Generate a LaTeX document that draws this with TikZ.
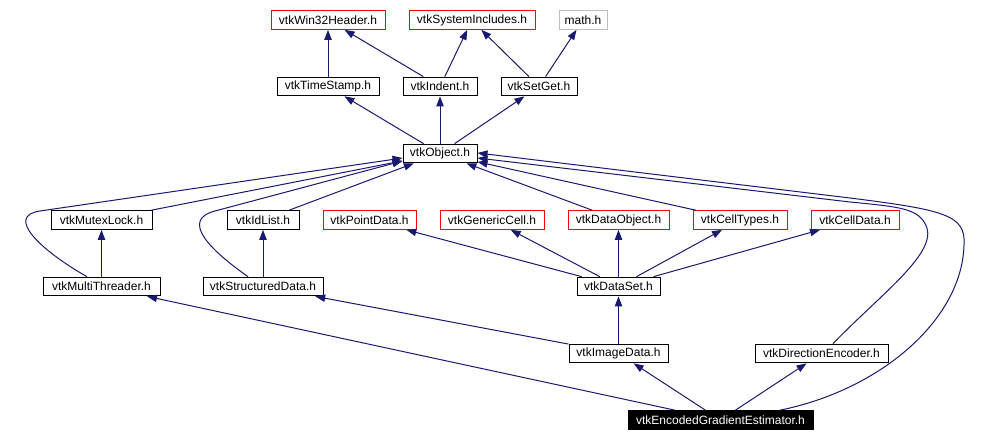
\documentclass[tikz,border=0pt]{standalone}
\usepackage{fontspec}
\setmainfont{Liberation Sans}
\usetikzlibrary{arrows.meta}
\definecolor{EdgeBlue}{RGB}{25, 25, 112}
\definecolor{TruncRed}{RGB}{255, 0, 0}
\definecolor{SysGray}{RGB}{191, 191, 191}

\begin{document}
\begin{tikzpicture}[x=0.75pt, y=-0.75pt,
    file/.style={draw=black, line width=0.75pt, fill=white, inner sep=0pt,
      minimum height=14pt, font=\fontsize{9}{10}\selectfont},
    trunc/.style={file, draw=TruncRed},
    sysfile/.style={file, draw=SysGray},
    current/.style={file, fill=black, text=white},
    edge/.style={draw=EdgeBlue, line width=0.75pt,
      -{Triangle[length=7.5pt, width=5.5pt]}}]
    \useasboundingbox (0,0) rectangle (1002,442);

    % Top row: system headers
    \node[trunc, minimum width=85.5pt] (win) at (328,20) {vtkWin32Header.h};
    \node[trunc, minimum width=94.5pt] (sysinc) at (472,20) {vtkSystemIncludes.h};
    \node[sysfile, minimum width=36pt] (math) at (583,20) {math.h};

    % Second row
    \node[file, minimum width=76.5pt] (stamp) at (328,86.5) {vtkTimeStamp.h};
    \node[file, minimum width=55.5pt] (indent) at (440,86.5) {vtkIndent.h};
    \node[file, minimum width=57pt] (setget) at (539,86.5) {vtkSetGet.h};

    % Base object
    \node[file, minimum width=55.5pt] (object) at (440,153.5) {vtkObject.h};

    % Fourth row
    \node[file, minimum width=75.75pt] (mutex) at (101.5,220) {vtkMutexLock.h};
    \node[file, minimum width=54pt] (idlist) at (263,220) {vtkIdList.h};
    \node[trunc, minimum width=69.75pt] (pointdata) at (369.5,220) {vtkPointData.h};
    \node[trunc, minimum width=78pt] (gencell) at (492,220) {vtkGenericCell.h};
    \node[trunc, minimum width=75.75pt] (dataobj) at (618.5,220) {vtkDataObject.h};
    \node[trunc, minimum width=70.5pt] (celltypes) at (740,220) {vtkCellTypes.h};
    \node[trunc, minimum width=66pt] (celldata) at (855,220) {vtkCellData.h};

    % Fifth row
    \node[file, minimum width=87.75pt] (threader) at (101.5,286.5) {vtkMultiThreader.h};
    \node[file, minimum width=90pt] (structured) at (263,286.5) {vtkStructuredData.h};
    \node[file, minimum width=62.25pt] (dataset) at (618.5,286.5) {vtkDataSet.h};

    % Sixth row
    \node[file, minimum width=74.25pt] (image) at (618.5,353.5) {vtkImageData.h};
    \node[file, minimum width=99.75pt] (direnc) at (821.5,353.5) {vtkDirectionEncoder.h};

    % The file itself
    \node[current, minimum width=138.75pt] (estimator) at (720.5,420) {vtkEncodedGradientEstimator.h};

    % Includes of the upper rows
    \draw[edge] (stamp) -- (win);
    \draw[edge] (indent) -- (win);
    \draw[edge] (indent) -- (sysinc);
    \draw[edge] (setget) -- ([xshift=7pt]sysinc.south);
    \draw[edge] (setget) -- (math);
    \draw[edge] (object) -- (stamp);
    \draw[edge] (object) -- (indent);
    \draw[edge] (object) -- (setget);

    % Into vtkObject.h
    \draw[edge] (mutex) -- (object);
    \draw[edge] (idlist) -- (object);
    \draw[edge] (dataobj) -- (object);
    \draw[edge] (celltypes) -- (object);
    \draw[edge] ([xshift=-10.9pt]threader.north) .. controls (40,250) and (5,216)
      .. (40,211) -- ([yshift=-3.4pt]object.west);
    \draw[edge] ([xshift=-11.25pt]structured.north) .. controls (210,250) and (180,220)
      .. (215,211) -- ([yshift=-5.6pt]object.west);
    \draw[edge] ([xshift=8.6pt]direnc.north) .. controls (880,295) and (935,255)
      .. (927,228) .. controls (920,208) and (900,207)
      .. (850,202) -- ([yshift=-3.4pt]object.east);
    \draw[edge] ([xshift=44.6pt]estimator.north) .. controls (880,390) and (962,320)
      .. (964,245) .. controls (966,215) and (945,210)
      .. (850,198) -- ([yshift=0.4pt]object.east);

    % Lower rows
    \draw[edge] (threader) -- (mutex);
    \draw[edge] (structured) -- (idlist);
    \draw[edge] (dataset) -- (pointdata);
    \draw[edge] (dataset) -- (gencell);
    \draw[edge] (dataset) -- (dataobj);
    \draw[edge] (dataset) -- (celltypes);
    \draw[edge] (dataset) -- (celldata);
    \draw[edge] (image) -- (structured);
    \draw[edge] (image) -- (dataset);
    \draw[edge] (estimator) -- (threader);
    \draw[edge] (estimator) -- (image);
    \draw[edge] (estimator) -- (direnc);
\end{tikzpicture}
\end{document}
